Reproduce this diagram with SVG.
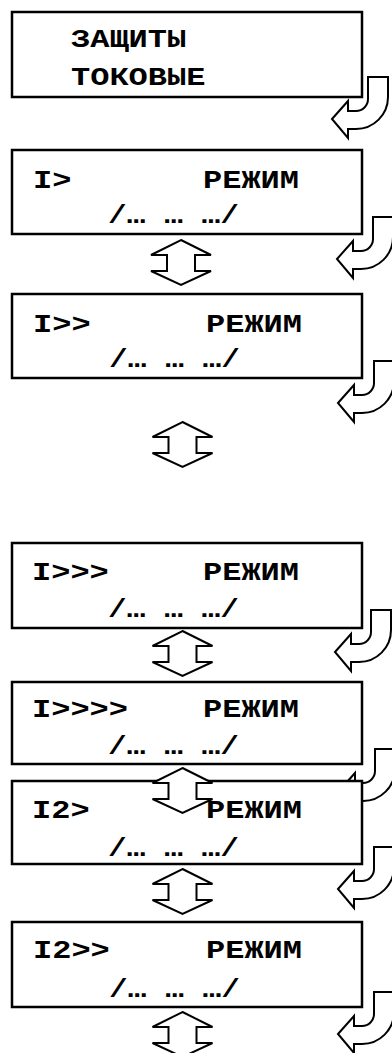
<svg xmlns="http://www.w3.org/2000/svg" xmlns:xlink="http://www.w3.org/1999/xlink" width="392" height="1053" viewBox="0 0 392 1053">
<style>
.box{fill:#fff;stroke:#000;stroke-width:2.5}
.arr{fill:#fff;stroke:#000;stroke-width:2;stroke-linejoin:miter}
.t{font-family:"Liberation Mono","Courier New",monospace;font-weight:bold;font-size:26px;fill:#000}
</style>
<defs>
<path id="ud" class="arr" d="M0,0 L30,15 L14,15 L14,31 L30,31 L0,45 L-30,31 L-14,31 L-14,15 L-30,15 Z"/>
<path id="cv" class="arr" d="M0,42 L16,24 L16,34 L24,34 A12,12 0 0 0 36,22 L36,0 L56,0 L56,20 A32,32 0 0 1 24,52 L16,52 L16,61 Z"/>
</defs>
<rect width="392" height="1053" fill="#fff"/>
<g id="connectors-curved">
<use xlink:href="#cv" x="332" y="77"/>
<use xlink:href="#cv" x="337" y="217"/>
<use xlink:href="#cv" x="338" y="361"/>
<use xlink:href="#cv" x="335" y="610"/>
<use xlink:href="#cv" x="339" y="749"/>
<use xlink:href="#cv" x="338" y="847"/>
<use xlink:href="#cv" x="338" y="992"/>
</g>
<g id="n1"><rect class="box" x="12" y="12" width="350" height="85"/>
<text class="t" x="71" y="47" textLength="115.2" lengthAdjust="spacingAndGlyphs">ЗАЩИТЫ</text><text class="t" x="71" y="85" textLength="134.4" lengthAdjust="spacingAndGlyphs">ТОКОВЫЕ</text></g>
<g id="n2"><rect class="box" x="12" y="150" width="350" height="84"/>
<text class="t" x="33" y="188" textLength="38.4" lengthAdjust="spacingAndGlyphs">I&gt;</text><text class="t" x="203" y="188" textLength="96" lengthAdjust="spacingAndGlyphs">РЕЖИМ</text><text class="t" x="108" y="223" textLength="131" lengthAdjust="spacingAndGlyphs">/… … …/</text></g>
<g id="n3"><rect class="box" x="12" y="294" width="350" height="84"/>
<text class="t" x="33" y="332" textLength="57.6" lengthAdjust="spacingAndGlyphs">I&gt;&gt;</text><text class="t" x="206" y="332" textLength="96" lengthAdjust="spacingAndGlyphs">РЕЖИМ</text><text class="t" x="109" y="367" textLength="131" lengthAdjust="spacingAndGlyphs">/… … …/</text></g>
<g id="n4"><rect class="box" x="12" y="543" width="350" height="85"/>
<text class="t" x="32" y="580" textLength="76.8" lengthAdjust="spacingAndGlyphs">I&gt;&gt;&gt;</text><text class="t" x="203" y="580" textLength="96" lengthAdjust="spacingAndGlyphs">РЕЖИМ</text><text class="t" x="108" y="617" textLength="131" lengthAdjust="spacingAndGlyphs">/… … …/</text></g>
<g id="n5"><rect class="box" x="12" y="682" width="350" height="82"/>
<text class="t" x="32" y="717" textLength="96" lengthAdjust="spacingAndGlyphs">I&gt;&gt;&gt;&gt;</text><text class="t" x="203" y="717" textLength="96" lengthAdjust="spacingAndGlyphs">РЕЖИМ</text><text class="t" x="108" y="754" textLength="131" lengthAdjust="spacingAndGlyphs">/… … …/</text></g>
<g id="n6"><rect class="box" x="12" y="781" width="350" height="83"/>
<text class="t" x="32" y="818" textLength="57.6" lengthAdjust="spacingAndGlyphs">I2&gt;</text><text class="t" x="206" y="818" textLength="96" lengthAdjust="spacingAndGlyphs">РЕЖИМ</text><text class="t" x="108" y="856" textLength="131" lengthAdjust="spacingAndGlyphs">/… … …/</text></g>
<g id="n7"><rect class="box" x="12" y="922" width="350" height="85"/>
<text class="t" x="33" y="958" textLength="76.8" lengthAdjust="spacingAndGlyphs">I2&gt;&gt;</text><text class="t" x="206" y="958" textLength="96" lengthAdjust="spacingAndGlyphs">РЕЖИМ</text><text class="t" x="109" y="997" textLength="131" lengthAdjust="spacingAndGlyphs">/… … …/</text></g>
<g id="connectors-updown">
<use xlink:href="#ud" x="181" y="240"/>
<use xlink:href="#ud" x="182.5" y="422"/>
<use xlink:href="#ud" x="182.5" y="631"/>
<use xlink:href="#ud" x="182.5" y="768"/>
<use xlink:href="#ud" x="182.5" y="869"/>
<use xlink:href="#ud" x="182.5" y="1012"/>
</g>
</svg>
